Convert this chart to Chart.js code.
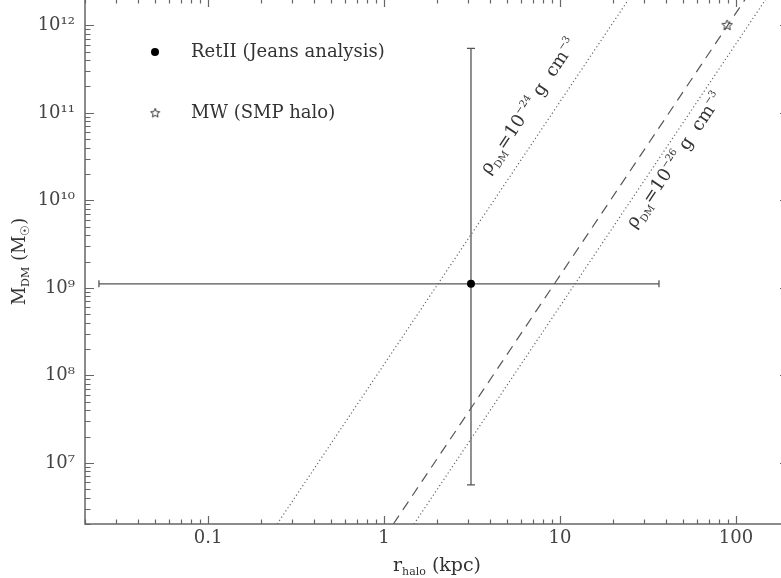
<!DOCTYPE html>
<html>
<head>
<meta charset="utf-8">
<script src="https://cdn.jsdelivr.net/npm/chart.js@4.4.0/dist/chart.umd.min.js"></script>
<style>
  html, body { margin: 0; padding: 0; background: #fff; }
  #wrap { position: relative; width: 781px; height: 578px; overflow: hidden; }
  #chart { position: absolute; left: 0; top: -12px; }
</style>
</head>
<body>
<div id="wrap"><canvas id="chart" width="800" height="590"></canvas></div>
<script>
// tick labels
const xTickValues = [0.1, 1, 10, 100];
const xTickLabels = ["0.1", "1", "10", "100"];
const yTickValues = [1e7, 1e8, 1e9, 1e10, 1e11, 1e12];
const yTickLabels = ["10⁷", "10⁸", "10⁹", "10¹⁰", "10¹¹", "10¹²"];

// RetII (Jeans analysis) with asymmetric errors
const retR = [3.12];
const retM = [1.11e9];
const retRLow = [0.024];
const retRHigh = [36.5];
const retMLow = [5.6e6];
const retMHigh = [5.46e11];

// MW (SMP halo)
const mwR = [89];
const mwM = [1e12];

// density lines, end points read at the plot edges
const rho24R = [0.247, 24.6];
const rho24M = [2e6, 2e12];
const dashR = [1.13, 113];
const dashM = [2e6, 2e12];
const rho26R = [1.48, 148];
const rho26M = [2e6, 2e12];

const FONT = "'DejaVu Serif'";
const GREY = "#555";

const toPoints = (xs, ys) => xs.map((x, i) => ({ x: x, y: ys[i] }));
const sameVal = (a, b) => Math.abs(Math.log10(a / b)) < 1e-6;

//open star used as point marker
function starImage(r) {
  const c = document.createElement("canvas");
  const s = Math.ceil(r * 2 + 4);
  c.width = s;
  c.height = s;
  const g = c.getContext("2d");
  g.strokeStyle = "#333";
  g.lineWidth = 1;
  g.beginPath();
  for (let i = 0; i < 10; i++) {
    const rr = i % 2 === 0 ? r : r * 0.45;
    const a = -Math.PI / 2 + (i * Math.PI) / 5;
    const px = s / 2 + rr * Math.cos(a);
    const py = s / 2 + rr * Math.sin(a);
    if (i === 0) g.moveTo(px, py);
    else g.lineTo(px, py);
  }
  g.closePath();
  g.stroke();
  return c;
}
const star = starImage(5.5);

function logTicks(lo, hi) {
  const out = [];
  for (let e = Math.floor(Math.log10(lo)); e <= Math.ceil(Math.log10(hi)); e++) {
    for (let m = 1; m <= 9; m++) {
      const v = m * Math.pow(10, e);
      if (v >= lo * 0.9999 && v <= hi * 1.0001) out.push({ value: v });
    }
  }
  return out;
}

// text with sub/superscripts
function drawRich(ctx, parts, x, y, angle, align) {
  ctx.save();
  ctx.translate(x, y);
  ctx.rotate(angle);
  let total = 0;
  parts.forEach((p) => {
    ctx.font = p.size + "px " + FONT;
    p.w = ctx.measureText(p.t).width;
    total += p.w;
  });
  let cx = align === "center" ? -total / 2 : 0;
  ctx.textBaseline = "alphabetic";
  ctx.textAlign = "left";
  parts.forEach((p) => {
    ctx.font = p.size + "px " + FONT;
    ctx.fillText(p.t, cx, p.dy || 0);
    cx += p.w;
  });
  ctx.restore();
}

const extras = {
  id: "extras",
  beforeDatasetsDraw(chart) {
    const ctx = chart.ctx;
    const xs = chart.scales.x;
    const ys = chart.scales.y;
    //error bars
    ctx.save();
    ctx.strokeStyle = GREY;
    ctx.lineWidth = 1.3;
    retR.forEach((r, i) => {
      const px = xs.getPixelForValue(r);
      const py = ys.getPixelForValue(retM[i]);
      const x0 = xs.getPixelForValue(retRLow[i]);
      const x1 = xs.getPixelForValue(retRHigh[i]);
      const y0 = ys.getPixelForValue(retMLow[i]);
      const y1 = ys.getPixelForValue(retMHigh[i]);
      ctx.beginPath();
      ctx.moveTo(x0, py); ctx.lineTo(x1, py);
      ctx.moveTo(x0, py - 3.5); ctx.lineTo(x0, py + 3.5);
      ctx.moveTo(x1, py - 3.5); ctx.lineTo(x1, py + 3.5);
      ctx.moveTo(px, y0); ctx.lineTo(px, y1);
      ctx.moveTo(px - 4, y0); ctx.lineTo(px + 4, y0);
      ctx.moveTo(px - 4, y1); ctx.lineTo(px + 4, y1);
      ctx.stroke();
    });
    ctx.restore();
  },
  afterDraw(chart) {
    const ctx = chart.ctx;
    const a = chart.chartArea;
    const xs = chart.scales.x;
    const ys = chart.scales.y;
    ctx.save();
    //frame and inward ticks on all sides
    ctx.strokeStyle = "#666";
    ctx.lineWidth = 1.5;
    ctx.strokeRect(a.left, a.top, a.right - a.left, a.bottom - a.top);
    ctx.lineWidth = 1.2;
    ctx.beginPath();
    xs.ticks.forEach((t) => {
      const major = xTickValues.some((v) => sameVal(v, t.value));
      const len = major ? 8 : 4.5;
      const px = Math.round(xs.getPixelForValue(t.value)) + 0.5;
      ctx.moveTo(px, a.bottom); ctx.lineTo(px, a.bottom - len);
      ctx.moveTo(px, a.top); ctx.lineTo(px, a.top + len);
    });
    ys.ticks.forEach((t) => {
      const major = yTickValues.some((v) => sameVal(v, t.value));
      const len = major ? 9 : 5.5;
      const py = Math.round(ys.getPixelForValue(t.value)) + 0.5;
      ctx.moveTo(a.left, py); ctx.lineTo(a.left + len, py);
      ctx.moveTo(a.right, py); ctx.lineTo(a.right - len, py);
    });
    ctx.stroke();

    ctx.fillStyle = "#333";
    //axis titles
    drawRich(ctx, [
      { t: "r", size: 19 },
      { t: "halo", size: 11, dy: 4 },
      { t: " (kpc)", size: 19 }
    ], (a.left + a.right) / 2, a.bottom + 47, 0, "center");
    drawRich(ctx, [
      { t: "M", size: 18 },
      { t: "DM", size: 11, dy: 4 },
      { t: " (M", size: 18 },
      { t: "☉", size: 12, dy: 4 },
      { t: ")", size: 18 }
    ], a.left - 60, (a.top + a.bottom) / 2, -Math.PI / 2, "center");

    //labels along the density lines
    const ang = (rs, ms) => Math.atan2(
      ys.getPixelForValue(ms[1]) - ys.getPixelForValue(ms[0]),
      xs.getPixelForValue(rs[1]) - xs.getPixelForValue(rs[0])
    );
    drawRich(ctx, [
      { t: "ρ", size: 18 },
      { t: "DM", size: 10, dy: 5 },
      { t: "=10", size: 18 },
      { t: "−24", size: 10, dy: -8 },
      { t: " g  cm", size: 18 },
      { t: "−3", size: 10, dy: -8 }
    ], xs.getPixelForValue(3.95), ys.getPixelForValue(1.95e10), ang(rho24R, rho24M), "left");
    drawRich(ctx, [
      { t: "ρ", size: 18 },
      { t: "DM", size: 10, dy: 5 },
      { t: "=10", size: 18 },
      { t: "−26", size: 10, dy: -8 },
      { t: " g  cm", size: 18 },
      { t: "−3", size: 10, dy: -8 }
    ], xs.getPixelForValue(26.7), ys.getPixelForValue(4.7e9), ang(rho26R, rho26M), "left");

    //legend
    const lx = a.left + 70;
    ctx.fillStyle = "#000";
    ctx.beginPath();
    ctx.arc(lx, a.top + 53, 4, 0, Math.PI * 2);
    ctx.fill();
    ctx.drawImage(starImage(4.8), lx - 6.8, a.top + 114 - 6.8);
    ctx.fillStyle = "#333";
    ctx.font = "18px " + FONT;
    ctx.textBaseline = "middle";
    ctx.fillText("RetII (Jeans analysis)", a.left + 106, a.top + 53);
    ctx.fillText("MW (SMP halo)", a.left + 106, a.top + 114);
    ctx.restore();
  }
};

const ctx = document.getElementById("chart");
const myChart = new Chart(ctx, {
  type: "scatter",
  data: {
    datasets: [
      {
        data: toPoints(rho24R, rho24M),
        showLine: true,
        borderColor: "#666",
        borderWidth: 1.2,
        borderDash: [1.2, 2.6],
        pointRadius: 0
      },
      {
        data: toPoints(dashR, dashM),
        showLine: true,
        borderColor: "#555",
        borderWidth: 1.2,
        borderDash: [10, 7],
        pointRadius: 0
      },
      {
        data: toPoints(rho26R, rho26M),
        showLine: true,
        borderColor: "#666",
        borderWidth: 1.2,
        borderDash: [1.2, 2.6],
        pointRadius: 0
      },
      {
        data: toPoints(mwR, mwM),
        pointStyle: star,
        pointRadius: 6
      },
      {
        data: toPoints(retR, retM),
        pointStyle: "circle",
        pointRadius: 4,
        backgroundColor: "#000",
        borderColor: "#000",
        borderWidth: 0
      }
    ]
  },
  options: {
    responsive: false,
    animation: false,
    layout: { padding: { top: 11, right: 11, left: 0, bottom: 0 } },
    plugins: { legend: { display: false }, tooltip: { enabled: false } },
    scales: {
      x: {
        type: "logarithmic",
        min: 0.02,
        max: 200,
        grid: { display: false, drawTicks: false },
        border: { display: false },
        afterBuildTicks: (s) => { s.ticks = logTicks(0.02, 200); },
        afterFit: (s) => { s.height = 54; s.paddingLeft = 0; s.paddingRight = 0; },
        ticks: {
          autoSkip: false,
          maxRotation: 0,
          padding: 4,
          color: "#444",
          font: { family: FONT, size: 18 },
          callback: (v) => {
            const i = xTickValues.findIndex((t) => sameVal(t, v));
            return i >= 0 ? xTickLabels[i] : "";
          }
        }
      },
      y: {
        type: "logarithmic",
        min: 2e6,
        max: 2e12,
        grid: { display: false, drawTicks: false },
        border: { display: false },
        afterBuildTicks: (s) => { s.ticks = logTicks(2e6, 2e12); },
        afterFit: (s) => { s.width = 85; s.paddingTop = 0; s.paddingBottom = 0; },
        ticks: {
          autoSkip: false,
          padding: 10,
          color: "#444",
          font: { family: FONT, size: 18 },
          callback: (v) => {
            const i = yTickValues.findIndex((t) => sameVal(t, v));
            return i >= 0 ? yTickLabels[i] : "";
          }
        }
      }
    }
  },
  plugins: [extras]
});
</script>
</body>
</html>
